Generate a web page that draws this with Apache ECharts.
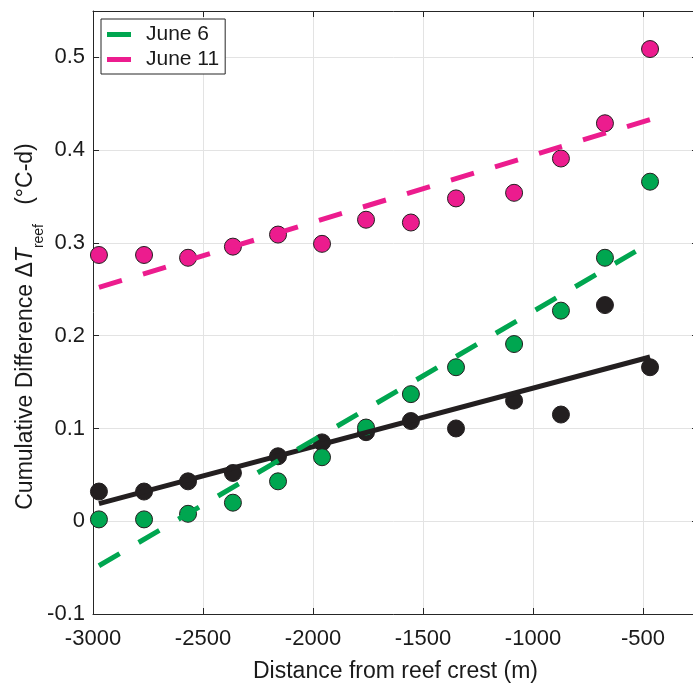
<!DOCTYPE html>
<html>
<head>
<meta charset="utf-8">
<script src="https://cdn.jsdelivr.net/npm/echarts@6/dist/echarts.min.js"></script>
<style>
  html, body { margin: 0; padding: 0; background: #fff; }
  #chart { width: 693px; height: 683px; }
</style>
</head>
<body>
<div id="chart"></div>
<script>
var distance = [-2973, -2768, -2568, -2364, -2159, -1959, -1759, -1555, -1350, -1086, -873, -673, -468];
var june6 = [0.002, 0.002, 0.008, 0.020, 0.043, 0.069, 0.101, 0.137, 0.166, 0.191, 0.227, 0.284, 0.366];
var june11 = [0.287, 0.287, 0.284, 0.296, 0.309, 0.299, 0.325, 0.322, 0.348, 0.354, 0.391, 0.429, 0.509];
var combined = [0.032, 0.032, 0.043, 0.052, 0.070, 0.085, 0.096, 0.108, 0.100, 0.130, 0.115, 0.233, 0.166];

// fitted lines, end points
var fitX = [-2973, -468];
var fitJune6 = [-0.048, 0.300];
var fitJune11 = [0.252, 0.433];
var fitCombined = [0.019, 0.177];

var green = '#00a650';
var pink = '#ec1c8e';
var dark = '#231f20';
var font = 'Liberation Sans';

function pairs(xs, ys) {
    return xs.map(function (x, i) { return [x, ys[i]]; });
}

var myChart = echarts.init(document.getElementById('chart'));

var tickStyle = { show: true, inside: true, length: 6, lineStyle: { color: '#262626', width: 1 } };
var lineStyleAxis = { show: true, onZero: false, lineStyle: { color: '#262626', width: 1 } };

var option = {
    animation: false,
    backgroundColor: '#fff',
    textStyle: { fontFamily: font },
    grid: { left: 93, width: 605, top: 11, bottom: 69, containLabel: false, outerBoundsMode: 'none' },
    legend: {
        left: 101, top: 19,
        orient: 'vertical',
        backgroundColor: '#fff',
        borderColor: '#262626', borderWidth: 1,
        padding: [5, 6, 4, 6],
        itemWidth: 24, itemHeight: 5, itemGap: 4,
        textStyle: { fontSize: 21, color: '#1a1a1a', fontFamily: font, padding: [0, 0, 0, 10] },
        data: [
            { name: 'June 6', icon: 'rect', itemStyle: { color: green, borderWidth: 0 } },
            { name: 'June 11', icon: 'rect', itemStyle: { color: pink, borderWidth: 0 } }
        ]
    },
    xAxis: [{
        type: 'value', min: -3000, max: -250, interval: 500,
        name: 'Distance from reef crest (m)',
        nameLocation: 'middle', nameGap: 46, nameMoveOverlap: false,
        nameTextStyle: { fontSize: 23, color: '#1a1a1a', fontFamily: font },
        axisLine: lineStyleAxis, axisTick: tickStyle,
        axisLabel: {
            fontSize: 22, color: '#1a1a1a', margin: 14,
            formatter: function (v) { return v % 500 === 0 ? String(v) : ''; }
        },
        splitLine: { show: true, lineStyle: { color: '#e3e3e3', width: 1 } }
    }, {
        type: 'value', min: -3000, max: -250, interval: 500, position: 'top',
        axisLine: lineStyleAxis, axisTick: tickStyle,
        axisLabel: { show: false }, splitLine: { show: false }
    }],
    yAxis: [{
        type: 'value', min: -0.1, max: 0.55, interval: 0.1,
        name: 'Cumulative Difference Δ{i|T}{sub|reef}   (°C-d)',
        nameLocation: 'middle', nameGap: 53, nameMoveOverlap: false,
        nameTextStyle: {
            fontSize: 23, color: '#1a1a1a', fontFamily: font, lineHeight: 28,
            padding: [0, 28, 0, 0],
            rich: {
                i: { fontSize: 23, fontStyle: 'italic', lineHeight: 28, fontFamily: font, color: '#1a1a1a' },
                sub: { fontSize: 14, lineHeight: 14, padding: [26, 0, 0, 0], fontFamily: font, color: '#1a1a1a' }
            }
        },
        axisLine: lineStyleAxis, axisTick: tickStyle,
        axisLabel: {
            fontSize: 22, color: '#1a1a1a', margin: 8,
            formatter: function (v) {
                var r = Math.round(v * 10) / 10;
                return Math.abs(r - v) < 1e-6 ? String(r) : '';
            }
        },
        splitLine: { show: true, lineStyle: { color: '#e3e3e3', width: 1 } }
    }, {
        type: 'value', min: -0.1, max: 0.55, interval: 0.1, position: 'right',
        axisLine: lineStyleAxis, axisTick: tickStyle,
        axisLabel: { show: false }, splitLine: { show: false }
    }],
    series: [{
        name: 'Combined',
        type: 'scatter',
        data: pairs(distance, combined),
        symbolSize: 17,
        itemStyle: { color: dark, borderColor: dark, borderWidth: 1, opacity: 1 }
    }, {
        name: 'Combined fit',
        type: 'line',
        data: pairs(fitX, fitCombined),
        symbol: 'none',
        lineStyle: { color: dark, width: 5 }
    }, {
        name: 'June 6',
        type: 'scatter',
        data: pairs(distance, june6),
        symbolSize: 17,
        itemStyle: { color: green, borderColor: dark, borderWidth: 1, opacity: 1 }
    }, {
        name: 'June 6 fit',
        type: 'line',
        data: pairs(fitX, fitJune6),
        symbol: 'none',
        lineStyle: { color: green, width: 5, type: [24, 22], cap: 'butt' }
    }, {
        name: 'June 11',
        type: 'scatter',
        data: pairs(distance, june11),
        symbolSize: 17,
        itemStyle: { color: pink, borderColor: dark, borderWidth: 1, opacity: 1 }
    }, {
        name: 'June 11 fit',
        type: 'line',
        data: pairs(fitX, fitJune11),
        symbol: 'none',
        lineStyle: { color: pink, width: 5, type: [24, 22], cap: 'butt' }
    }]
};

myChart.setOption(option);
</script>
</body>
</html>
